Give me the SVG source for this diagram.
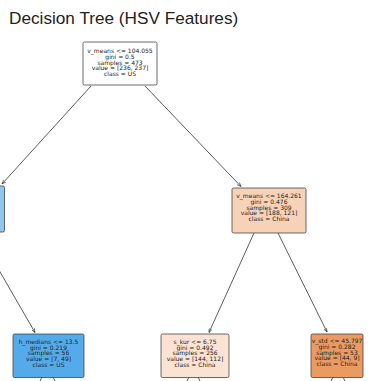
<svg xmlns="http://www.w3.org/2000/svg" width="371" height="381" viewBox="0 0 371 381">
<defs>
<style>
.box{stroke:#444;stroke-width:0.8}
.t{font-family:"DejaVu Sans","Liberation Sans",sans-serif;font-size:6px;fill:#222;text-anchor:middle}
.e{stroke:#333;stroke-width:0.8;fill:none}
.title{font-family:"Liberation Sans",Arial,sans-serif;font-size:17.2px;fill:#222}
</style>
<marker id="ah" viewBox="0 0 10 10" refX="10" refY="5" markerWidth="5" markerHeight="5" orient="auto">
<path d="M0,1 L10,5 L0,9" fill="none" stroke="#333" stroke-width="1.6"/>
</marker>
</defs>
<rect width="371" height="381" fill="#ffffff"/>
<text class="title" x="9" y="23.5">Decision Tree (HSV Features)</text>
<g id="edges">
<line class="e" x1="91" y1="86" x2="2" y2="184" marker-end="url(#ah)"/>
<line class="e" x1="145" y1="86" x2="241" y2="186.5" marker-end="url(#ah)"/>
<line class="e" x1="-23" y1="232" x2="35" y2="332.5" marker-end="url(#ah)"/>
<line class="e" x1="254" y1="233" x2="209" y2="332.5" marker-end="url(#ah)"/>
<line class="e" x1="278" y1="233" x2="327" y2="332" marker-end="url(#ah)"/>
<line class="e" x1="42" y1="377" x2="40" y2="381"/>
<line class="e" x1="53" y1="377" x2="55" y2="381"/>
<line class="e" x1="189" y1="377" x2="187" y2="381"/>
<line class="e" x1="198" y1="377" x2="200" y2="381"/>
<line class="e" x1="333" y1="377" x2="331" y2="381"/>
<line class="e" x1="343" y1="377" x2="345" y2="381"/>
</g>
<g id="root">
<rect class="box" x="83" y="42" width="74" height="43" rx="1.5" fill="#ffffff"/>
<text class="t" x="120" y="53.2">v_means &lt;= 104.055</text>
<text class="t" x="120" y="58.9">gini = 0.5</text>
<text class="t" x="120" y="64.6">samples = 473</text>
<text class="t" x="120" y="70.3">value = [236, 237]</text>
<text class="t" x="120" y="76">class = US</text>
</g>
<g id="left">
<rect class="box" x="-70" y="186" width="74.5" height="46" rx="1.5" fill="#8ec6f0"/>
</g>
<g id="right">
<rect class="box" x="232" y="188" width="74" height="45" rx="1.5" fill="#f6d2b8"/>
<text class="t" x="269" y="198.3">v_means &lt;= 164.261</text>
<text class="t" x="269" y="204">gini = 0.476</text>
<text class="t" x="269" y="209.7">samples = 309</text>
<text class="t" x="269" y="215.4">value = [188, 121]</text>
<text class="t" x="269" y="221.1">class = China</text>
</g>
<g id="h_medians">
<rect class="box" x="13" y="334" width="71" height="43.5" rx="1.5" fill="#55abe9"/>
<text class="t" x="48.5" y="343.8">h_medians &lt;= 13.5</text>
<text class="t" x="48.5" y="349.5">gini = 0.219</text>
<text class="t" x="48.5" y="355.2">samples = 56</text>
<text class="t" x="48.5" y="360.9">value = [7, 49]</text>
<text class="t" x="48.5" y="366.6">class = US</text>
</g>
<g id="s_kur">
<rect class="box" x="161" y="334" width="68" height="43.5" rx="1.5" fill="#fae3d3"/>
<text class="t" x="195" y="343.8">s_kur &lt;= 6.75</text>
<text class="t" x="195" y="349.5">gini = 0.492</text>
<text class="t" x="195" y="355.2">samples = 256</text>
<text class="t" x="195" y="360.9">value = [144, 112]</text>
<text class="t" x="195" y="366.6">class = China</text>
</g>
<g id="v_std">
<rect class="box" x="311" y="334" width="52" height="43.5" rx="1.5" fill="#ea9b62"/>
<text class="t" x="337" y="343.3">v_std &lt;= 45.797</text>
<text class="t" x="337" y="349">gini = 0.282</text>
<text class="t" x="337" y="354.7">samples = 53</text>
<text class="t" x="337" y="360.4">value = [44, 9]</text>
<text class="t" x="337" y="366.1">class = China</text>
</g>
</svg>
